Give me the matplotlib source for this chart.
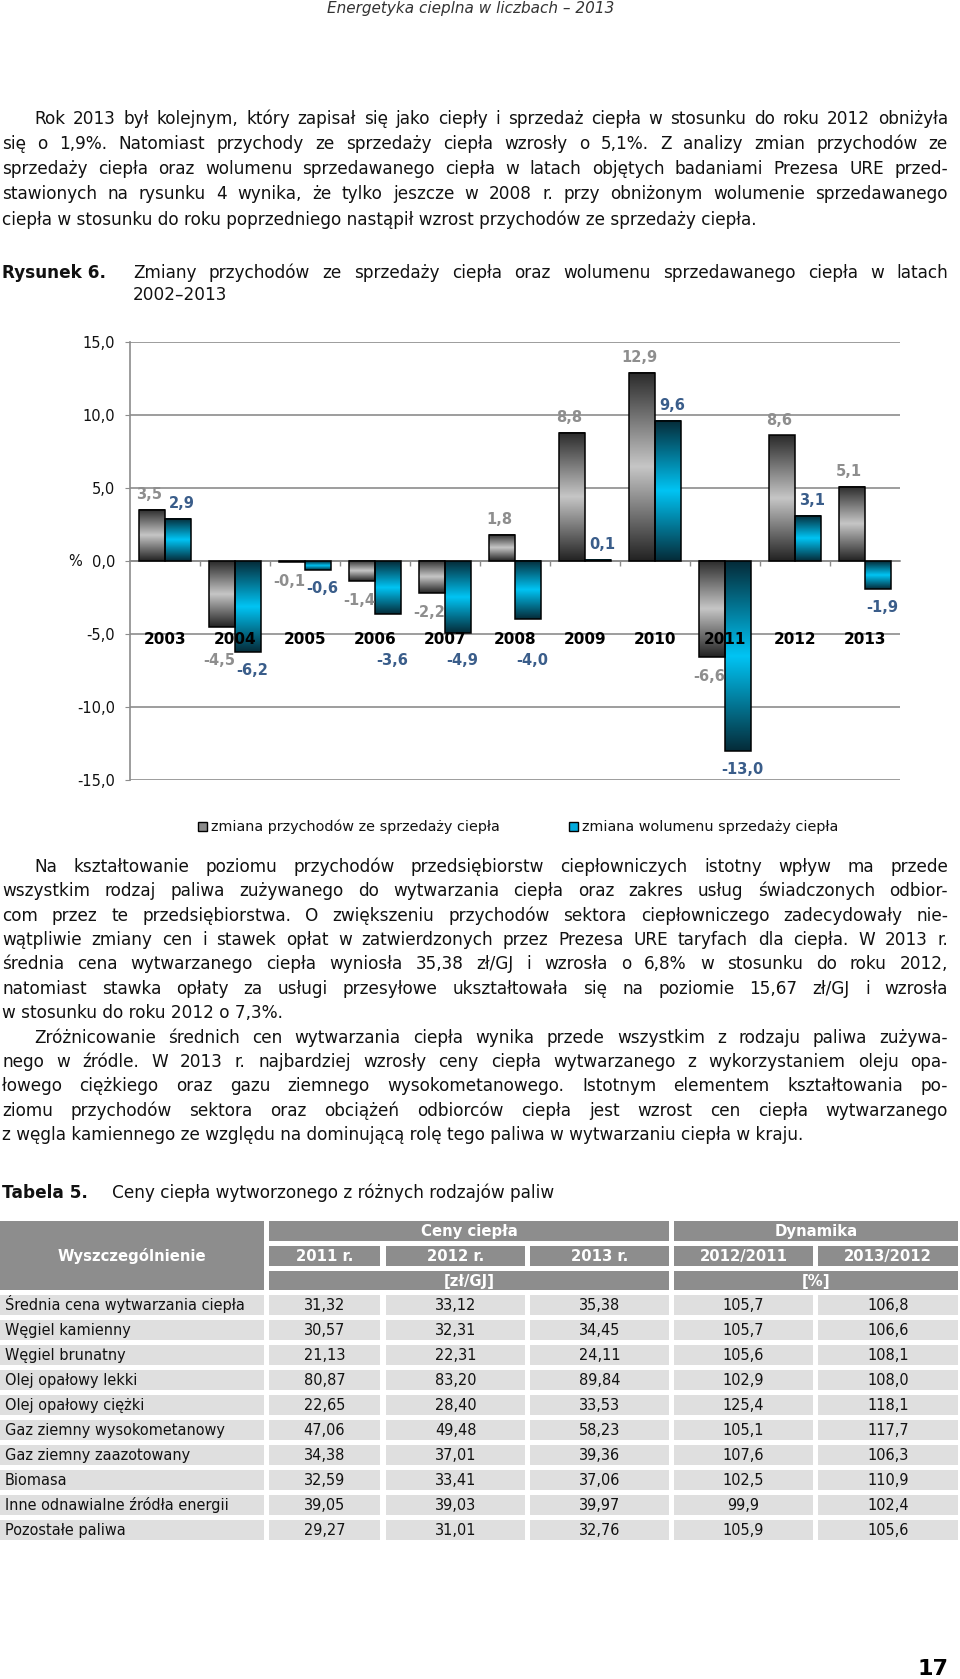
import numpy as np
import matplotlib
matplotlib.use('Agg')
import matplotlib.pyplot as plt
from matplotlib.colors import LinearSegmentedColormap
from matplotlib.patches import Rectangle

plt.rcParams['font.family'] = ['DejaVu Sans']

# ---- chart data ----
years = ['2003', '2004', '2005', '2006', '2007', '2008', '2009', '2010', '2011', '2012', '2013']
przychody = [3.5, -4.5, -0.1, -1.4, -2.2, 1.8, 8.8, 12.9, -6.6, 8.6, 5.1]
wolumen = [2.9, -6.2, -0.6, -3.6, -4.9, -4.0, 0.1, 9.6, -13.0, 3.1, -1.9]
legend_labels = ['zmiana przychodów ze sprzedaży ciepła', 'zmiana wolumenu sprzedaży ciepła']

# ---- table data ----
rodzaje = ['Średnia cena wytwarzania ciepła', 'Węgiel kamienny', 'Węgiel brunatny',
           'Olej opałowy lekki', 'Olej opałowy ciężki', 'Gaz ziemny wysokometanowy',
           'Gaz ziemny zaazotowany', 'Biomasa', 'Inne odnawialne źródła energii', 'Pozostałe paliwa']
ceny_2011 = [31.32, 30.57, 21.13, 80.87, 22.65, 47.06, 34.38, 32.59, 39.05, 29.27]
ceny_2012 = [33.12, 32.31, 22.31, 83.20, 28.40, 49.48, 37.01, 33.41, 39.03, 31.01]
ceny_2013 = [35.38, 34.45, 24.11, 89.84, 33.53, 58.23, 39.36, 37.06, 39.97, 32.76]
dyn_12_11 = [105.7, 105.7, 105.6, 102.9, 125.4, 105.1, 107.6, 102.5, 99.9, 105.9]
dyn_13_12 = [106.8, 106.6, 108.1, 108.0, 118.1, 117.7, 106.3, 110.9, 102.4, 105.6]

para1 = [
    "Rok 2013 był kolejnym, który zapisał się jako ciepły i sprzedaż ciepła w stosunku do roku 2012 obniżyła",
    "się o 1,9%. Natomiast przychody ze sprzedaży ciepła wzrosły o 5,1%. Z analizy zmian przychodów ze",
    "sprzedaży ciepła oraz wolumenu sprzedawanego ciepła w latach objętych badaniami Prezesa URE przed-",
    "stawionych na rysunku 4 wynika, że tylko jeszcze w 2008 r. przy obniżonym wolumenie sprzedawanego",
    "ciepła w stosunku do roku poprzedniego nastąpił wzrost przychodów ze sprzedaży ciepła.",
]
para2 = [
    "Na kształtowanie poziomu przychodów przedsiębiorstw ciepłowniczych istotny wpływ ma przede",
    "wszystkim rodzaj paliwa zużywanego do wytwarzania ciepła oraz zakres usług świadczonych odbior-",
    "com przez te przedsiębiorstwa. O zwiększeniu przychodów sektora ciepłowniczego zadecydowały nie-",
    "wątpliwie zmiany cen i stawek opłat w zatwierdzonych przez Prezesa URE taryfach dla ciepła. W 2013 r.",
    "średnia cena wytwarzanego ciepła wyniosła 35,38 zł/GJ i wzrosła o 6,8% w stosunku do roku 2012,",
    "natomiast stawka opłaty za usługi przesyłowe ukształtowała się na poziomie 15,67 zł/GJ i wzrosła",
    "w stosunku do roku 2012 o 7,3%.",
]
para3 = [
    "Zróżnicowanie średnich cen wytwarzania ciepła wynika przede wszystkim z rodzaju paliwa zużywa-",
    "nego w źródle. W 2013 r. najbardziej wzrosły ceny ciepła wytwarzanego z wykorzystaniem oleju opa-",
    "łowego ciężkiego oraz gazu ziemnego wysokometanowego. Istotnym elementem kształtowania po-",
    "ziomu przychodów sektora oraz obciążeń odbiorców ciepła jest wzrost cen ciepła wytwarzanego",
    "z węgla kamiennego ze względu na dominującą rolę tego paliwa w wytwarzaniu ciepła w kraju.",
]

W, H = 960, 1679
fig = plt.figure(figsize=(9.6, 16.79), dpi=100)
pa = fig.add_axes([0, 0, 1, 1])
pa.set_xlim(0, W)
pa.set_ylim(H, 0)
pa.axis('off')
rend = fig.canvas.get_renderer()

TXT = '#111111'


def tw(s, size, weight='normal', style='normal'):
    t = pa.text(0, 0, s, fontsize=size, fontweight=weight, fontstyle=style)
    w = t.get_window_extent(renderer=rend).width
    t.remove()
    return w


def put(x, y, s, size, weight='normal', ha='left', color=TXT, style='normal'):
    # y is the visual middle of the line, converted to a baseline
    pa.text(x, y + 0.34 * size * 100 / 72, s, fontsize=size, fontweight=weight, fontstyle=style,
            ha=ha, va='baseline', color=color)


def put_line(s, x0, x1, y, size, justify=True, weight='normal'):
    words = s.split(' ')
    if not justify or len(words) == 1:
        put(x0, y, s, size, weight)
        return
    widths = [tw(w, size, weight) for w in words]
    gap = (x1 - x0 - sum(widths)) / (len(words) - 1)
    gap = max(gap, 0.2 * size)
    x = x0
    for w, wd in zip(words, widths):
        put(x, y, w, size, weight)
        x += wd + gap


def put_para(lines, y0, step, size, left=2, indent=32, right=948):
    for i, s in enumerate(lines):
        x0 = left + (indent if i == 0 else 0)
        put_line(s, x0, right, y0 + i * step, size, justify=(i < len(lines) - 1))


fs = 10 * 808 / tw(para3[-1], 10)

# header
put(471, 8, 'Energetyka cieplna w liczbach – 2013', 11, ha='center', color='#333333', style='italic')

put_para(para1, 118, 25.2, fs)

# figure caption
put(2, 272, 'Rysunek 6.', fs, weight='bold')
put_line('Zmiany przychodów ze sprzedaży ciepła oraz wolumenu sprzedawanego ciepła w latach',
         133, 948, 272, fs)
put(133, 294, '2002–2013', fs)

# ---- chart ----
ax = fig.add_axes([130 / W, 1 - 780 / H, 770 / W, 438 / H])
ax.patch.set_alpha(0)
x = np.arange(len(years))
bw = 0.37
gray_cmap = LinearSegmentedColormap.from_list('g', ['#222222', '#c6c6c6', '#2a2a2a'])
blue_cmap = LinearSegmentedColormap.from_list('b', ['#052b38', '#00c4f4', '#052b38'])
grad = np.linspace(0, 1, 256).reshape(-1, 1)

series = [(x - bw / 2, przychody, gray_cmap, '#8e8e8e', -3),
          (x + bw / 2, wolumen, blue_cmap, '#3a5d8a', 4)]
for xs, vals, cmap, lc, dx in series:
    bars = ax.bar(xs, vals, bw, facecolor='none', edgecolor='black', linewidth=1.1, zorder=4)
    for b, v in zip(bars, vals):
        x0, w = b.get_x(), b.get_width()
        lo, hi = min(0, v), max(0, v)
        ax.imshow(grad, cmap=cmap, extent=[x0, x0 + w, lo, hi], aspect='auto',
                  origin='lower', interpolation='bilinear', zorder=3)
        if v >= 0:
            ly = v + 1.05
        else:
            ly = v - 1.3
            if -6.8 < ly < -4.0:
                ly = -6.8
        ax.text(b.get_x() + w / 2 + dx / 70, ly, f'{v:.1f}'.replace('.', ','), ha='center',
                va='center', fontsize=10.5, fontweight='bold', color=lc, zorder=6)

for i, yr in enumerate(years):
    ax.text(i, -5.4, yr, ha='center', va='center', fontsize=11, fontweight='bold',
            color='black', zorder=7)

ax.set_xlim(-0.5, len(years) - 0.5)
ax.set_ylim(-15, 15)
yt = np.arange(-15, 16, 5)
ax.set_yticks(yt)
ax.set_yticklabels([f'{t:.1f}'.replace('.', ',') for t in yt])
ax.set_xticks([])
ax.set_xticks(np.arange(0.5, len(years) - 0.5, 1), minor=True)
ax.tick_params(axis='x', which='minor', length=3.6, color='#8c8c8c', direction='out', width=1)
ax.tick_params(axis='y', length=3.6, color='#8c8c8c', pad=7, labelsize=10.5, labelcolor=TXT)
ax.yaxis.grid(True, color='#8c8c8c', linewidth=1.2, zorder=0)
ax.set_axisbelow(True)
for s in ['top', 'right']:
    ax.spines[s].set_visible(False)
ax.spines['bottom'].set_position(('data', 0))
ax.spines['bottom'].set_color('#8c8c8c')
ax.spines['bottom'].set_linewidth(1.2)
ax.spines['left'].set_color('#8c8c8c')
ax.spines['left'].set_linewidth(1.2)
put(75, 561, '%', 10.5, ha='center')

# legend
fl = 10 * 291 / tw(legend_labels[0], 10)
for (sx, tx), lab, fc in zip([(198, 211), (569, 582)], legend_labels, ['#8a8a8a', '#00aadd']):
    pa.add_patch(Rectangle((sx, 822), 9, 9, facecolor=fc, edgecolor='black', linewidth=1))
    put(tx, 826, lab, fl)

put_para(para2, 866, 24.4, fs)
put_para(para3, 866 + 7 * 24.4, 24.4, fs)

# table caption
put(2, 1192, 'Tabela 5.', fs, weight='bold')
put(112, 1192, 'Ceny ciepła wytworzonego z różnych rodzajów paliw', fs)

# ---- table ----
HDR = '#8d8d8d'
CELL = '#dfdfdf'
cols = [(0, 264), (269, 380), (386, 525), (530, 669), (674, 813), (818, 958)]
fd = 10 * 240 / tw(rodzaje[0], 10)
fh = 10 * 148 / tw('Wyszczególnienie', 10, 'bold')


def cell(x0, x1, y0, y1, color, text='', bold=False, tcolor='white', ha='center', size=None):
    pa.add_patch(Rectangle((x0, y0), x1 - x0, y1 - y0, facecolor=color, edgecolor='none'))
    if text:
        tx = (x0 + x1) / 2 if ha == 'center' else x0 + 5
        put(tx, (y0 + y1) / 2, text, size or fh, weight='bold' if bold else 'normal',
            ha=ha, color=tcolor)


r1, r2, r3 = (1221, 1241), (1246, 1266), (1271, 1290)
cell(cols[0][0], cols[0][1], r1[0], r3[1], HDR, 'Wyszczególnienie', True)
cell(cols[1][0], cols[3][1], *r1, HDR, 'Ceny ciepła', True)
cell(cols[4][0], cols[5][1], *r1, HDR, 'Dynamika', True)
for c, lab in zip(cols[1:], ['2011 r.', '2012 r.', '2013 r.', '2012/2011', '2013/2012']):
    cell(c[0], c[1], *r2, HDR, lab, True)
cell(cols[1][0], cols[3][1], *r3, HDR, '[zł/GJ]', True)
cell(cols[4][0], cols[5][1], *r3, HDR, '[%]', True)

for i, name in enumerate(rodzaje):
    y0 = 1295 + i * 25
    y1 = y0 + 20
    cell(cols[0][0], cols[0][1], y0, y1, CELL, name, tcolor=TXT, ha='left', size=fd)
    vals = [f'{ceny_2011[i]:.2f}', f'{ceny_2012[i]:.2f}', f'{ceny_2013[i]:.2f}',
            f'{dyn_12_11[i]:.1f}', f'{dyn_13_12[i]:.1f}']
    for c, v in zip(cols[1:], vals):
        cell(c[0], c[1], y0, y1, CELL, v.replace('.', ','), tcolor=TXT, size=fd)

# page number
put(948, 1667, '17', 16, weight='bold', ha='right', color='black')

fig.savefig('out.png', dpi=100)
